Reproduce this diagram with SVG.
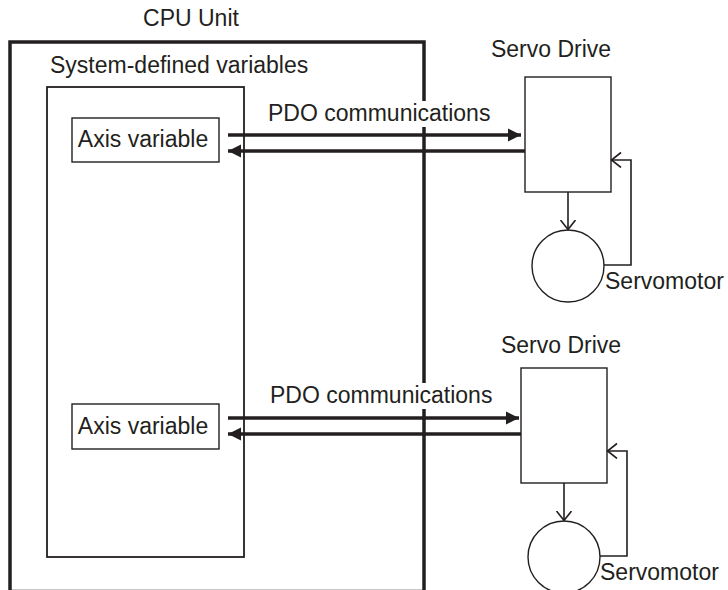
<svg xmlns="http://www.w3.org/2000/svg" width="728" height="590" viewBox="0 0 728 590">
<style>
text{font-family:"Liberation Sans",Arial,Helvetica,sans-serif;font-size:23px;fill:#231f20}
.outer{fill:none;stroke:#231f20;stroke-width:3.5}
.inner{fill:none;stroke:#231f20;stroke-width:1.8}
.box{fill:#fff;stroke:#231f20;stroke-width:1.4}
.thick{fill:none;stroke:#231f20;stroke-width:3.5}
.thin{fill:none;stroke:#231f20;stroke-width:1.6}
</style>
<defs>
<marker id="fat" markerUnits="userSpaceOnUse" markerWidth="14" markerHeight="14" refX="13" refY="7" orient="auto">
<path d="M0,0.5 L13,7 L0,13.5 Z" fill="#231f20"/>
</marker>
<marker id="open" markerUnits="userSpaceOnUse" markerWidth="12" markerHeight="18" refX="10.5" refY="8" orient="auto">
<path d="M0.5,0.5 L10,8 L0.5,15.5" fill="none" stroke="#231f20" stroke-width="1.6"/>
</marker>
</defs>

<g id="cpu-unit">
<rect class="outer" x="10" y="42" width="414" height="549.5"/>
<text x="191" y="26" text-anchor="middle">CPU Unit</text>
</g>
<g id="system-defined-variables">
<rect class="inner" x="47" y="87" width="197" height="470"/>
<text x="50" y="73">System-defined variables</text>
</g>
<g id="axis-variable-1">
<rect class="box" x="72" y="118" width="147" height="44"/>
<text x="143" y="147" text-anchor="middle">Axis variable</text>
</g>
<g id="axis-variable-2">
<rect class="box" x="72" y="404" width="147" height="45"/>
<text x="143" y="434" text-anchor="middle">Axis variable</text>
</g>
<g id="servo-drive-1">
<rect class="box" x="525" y="77" width="86" height="115"/>
<text x="551" y="57" text-anchor="middle">Servo Drive</text>
</g>
<g id="servomotor-1">
<circle class="box" cx="568" cy="266" r="36"/>
<text x="605" y="289">Servomotor</text>
</g>
<g id="servo-drive-2">
<rect class="box" x="521" y="368" width="86" height="115"/>
<text x="561" y="353" text-anchor="middle">Servo Drive</text>
</g>
<g id="servomotor-2">
<circle class="box" cx="564" cy="557" r="36"/>
<text x="600" y="580">Servomotor</text>
</g>

<g id="connectors">
<line class="thick" x1="228" y1="135" x2="521" y2="135" marker-end="url(#fat)"/>
<line class="thick" x1="525" y1="151" x2="228" y2="151" marker-end="url(#fat)"/>
<line class="thick" x1="228" y1="418" x2="519" y2="418" marker-end="url(#fat)"/>
<line class="thick" x1="521" y1="434" x2="228" y2="434" marker-end="url(#fat)"/>
<line class="thin" x1="568" y1="192" x2="568" y2="230" marker-end="url(#open)"/>
<polyline class="thin" points="604,265 631,265 631,160 611,160" marker-end="url(#open)"/>
<line class="thin" x1="564" y1="483" x2="564" y2="521" marker-end="url(#open)"/>
<polyline class="thin" points="600,556 627,556 627,451 607,451" marker-end="url(#open)"/>
<g id="pdo-label-1">
<rect x="266" y="101" width="233" height="26" fill="#fff"/>
<text x="268" y="121">PDO communications</text>
</g>
<g id="pdo-label-2">
<rect x="268" y="383" width="233" height="26" fill="#fff"/>
<text x="270" y="403">PDO communications</text>
</g>
</g>
</svg>
